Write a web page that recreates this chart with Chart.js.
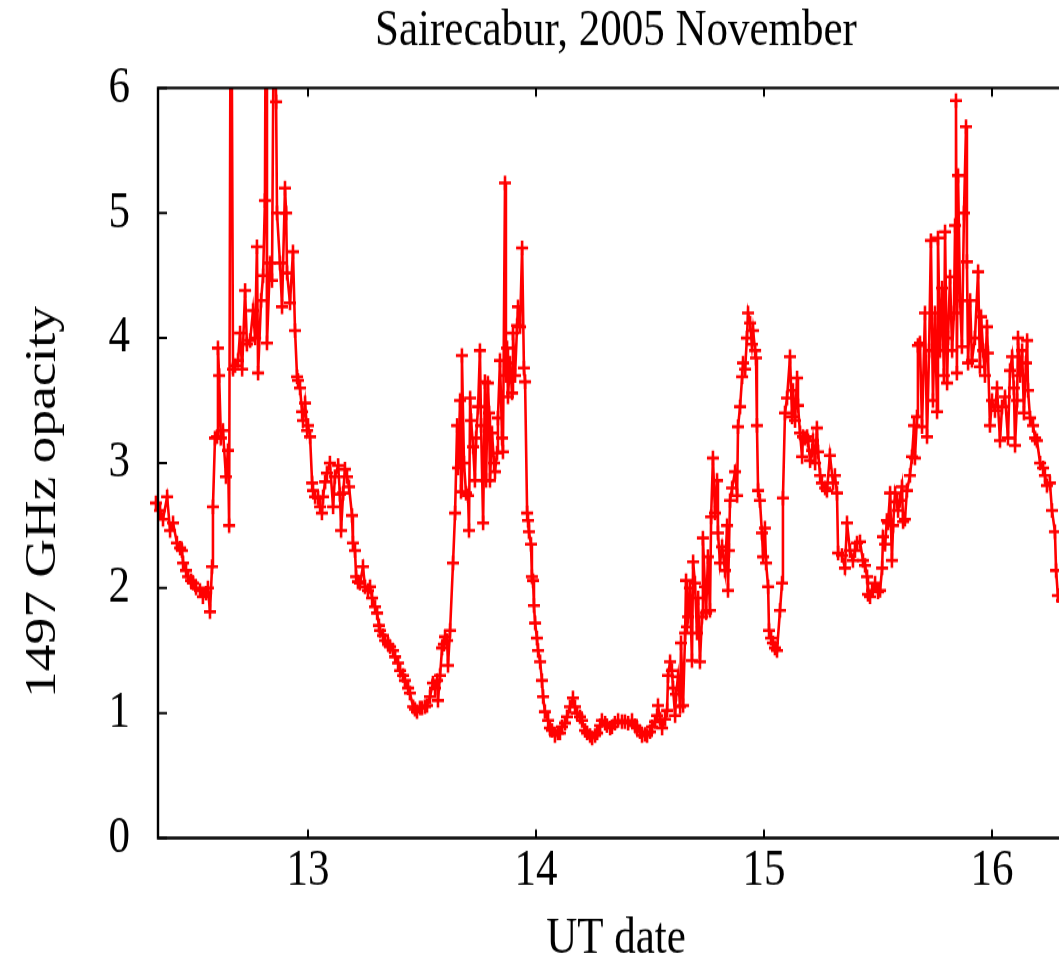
<!DOCTYPE html>
<html>
<head>
<meta charset="utf-8">
<script src="https://cdn.jsdelivr.net/npm/chart.js@4/dist/chart.umd.min.js"></script>
<style>
  html, body { margin: 0; padding: 0; background: #fff; overflow: hidden; width: 1059px; height: 965px; }
  #c { position: absolute; left: 0; top: 0; }
</style>
</head>
<body>
<canvas id="c" width="1074" height="794" style="width:1074px;height:965px;"></canvas>
<script>
const TITLE = 'Sairecabur, 2005 November';
const X_LABEL = 'UT date';
const Y_LABEL = '1497 GHz opacity';
const X_TICKS = [13, 14, 15, 16];
const Y_TICKS = [0, 1, 2, 3, 4, 5, 6];
const X_MIN = 12.342, X_MAX = 16.3596;

const DATES = [
12.320,12.333,12.351,12.364,12.382,12.395,12.408,12.425,12.439,12.447,12.452,12.465,12.474,12.487,12.496,12.509,12.526,12.539,12.553,12.561,
12.570,12.579,12.583,12.592,12.601,12.605,12.610,12.618,12.627,12.640,12.649,12.654,12.662,12.671,12.680,12.693,12.702,12.711,12.724,12.732,
12.746,12.759,12.768,12.776,12.781,12.794,12.803,12.811,12.816,12.820,12.833,12.842,12.851,12.860,12.864,12.877,12.886,12.899,12.904,12.908,
12.921,12.934,12.943,12.952,12.956,12.965,12.974,12.978,12.987,12.996,13.000,13.009,13.018,13.022,13.031,13.044,13.053,13.061,13.066,13.075,
13.083,13.096,13.110,13.118,13.132,13.140,13.145,13.154,13.162,13.171,13.180,13.193,13.197,13.206,13.211,13.219,13.228,13.241,13.250,13.263,
13.272,13.281,13.294,13.303,13.311,13.316,13.329,13.338,13.351,13.360,13.373,13.382,13.395,13.404,13.417,13.425,13.439,13.447,13.461,13.469,
13.478,13.491,13.500,13.513,13.522,13.535,13.548,13.557,13.566,13.570,13.579,13.588,13.596,13.601,13.610,13.614,13.623,13.636,13.645,13.654,
13.658,13.667,13.671,13.675,13.684,13.693,13.702,13.706,13.711,13.715,13.724,13.732,13.737,13.746,13.754,13.759,13.768,13.776,13.781,13.789,
13.794,13.798,13.807,13.816,13.820,13.829,13.833,13.842,13.851,13.855,13.864,13.868,13.873,13.877,13.886,13.895,13.899,13.908,13.917,13.921,
13.930,13.939,13.947,13.952,13.961,13.965,13.969,13.978,13.982,13.987,13.991,13.996,14.004,14.009,14.018,14.026,14.031,14.039,14.053,14.061,
14.070,14.083,14.096,14.105,14.114,14.127,14.136,14.149,14.162,14.171,14.180,14.193,14.202,14.215,14.224,14.237,14.246,14.259,14.268,14.281,
14.289,14.303,14.311,14.325,14.333,14.346,14.360,14.377,14.390,14.404,14.421,14.434,14.443,14.456,14.465,14.478,14.487,14.500,14.509,14.522,
14.531,14.535,14.544,14.553,14.566,14.575,14.579,14.588,14.596,14.601,14.610,14.614,14.623,14.632,14.636,14.645,14.654,14.658,14.662,14.667,
14.675,14.684,14.689,14.697,14.706,14.711,14.719,14.728,14.732,14.741,14.746,14.754,14.763,14.768,14.776,14.785,14.794,14.798,14.807,14.816,
14.829,14.838,14.842,14.846,14.851,14.860,14.873,14.882,14.886,14.895,14.904,14.908,14.917,14.925,14.930,14.939,14.947,14.952,14.961,14.965,
14.969,14.974,14.982,14.991,14.996,15.004,15.009,15.018,15.022,15.031,15.039,15.048,15.057,15.070,15.079,15.083,15.092,15.101,15.114,15.123,
15.127,15.136,15.145,15.149,15.158,15.167,15.171,15.180,15.189,15.193,15.202,15.211,15.215,15.224,15.232,15.237,15.246,15.254,15.268,15.276,
15.289,15.303,15.311,15.320,15.325,15.342,15.355,15.364,15.377,15.390,15.399,15.408,15.421,15.434,15.443,15.452,15.456,15.465,15.474,15.487,
15.500,15.509,15.518,15.522,15.531,15.539,15.544,15.553,15.561,15.566,15.575,15.583,15.588,15.596,15.605,15.610,15.618,15.627,15.640,15.649,
15.658,15.662,15.671,15.675,15.684,15.693,15.706,15.715,15.724,15.732,15.741,15.750,15.759,15.763,15.772,15.781,15.789,15.794,15.803,15.807,
15.816,15.825,15.833,15.838,15.842,15.846,15.851,15.860,15.868,15.877,15.886,15.890,15.895,15.904,15.912,15.925,15.939,15.947,15.952,15.961,
15.969,15.978,15.982,15.991,16.000,16.013,16.022,16.035,16.044,16.057,16.070,16.079,16.088,16.096,16.101,16.110,16.114,16.123,16.132,16.140,
16.149,16.154,16.158,16.167,16.180,16.189,16.197,16.211,16.224,16.232,16.241,16.254,16.263,16.276,16.281,16.289,16.307,16.320
];

const OPACITY = [
2.85,2.68,2.62,2.55,2.73,2.46,2.52,2.36,2.32,2.30,2.20,2.14,2.09,2.06,2.04,2.00,1.98,1.93,1.96,2.00,
1.81,2.17,2.65,3.20,3.21,3.92,3.70,3.20,3.26,2.89,3.10,2.50,8.00,3.75,3.78,3.82,4.04,3.75,4.38,3.95,
3.98,4.22,4.00,4.73,3.72,4.30,4.50,5.10,7.50,3.96,4.60,4.46,7.00,5.89,5.00,4.60,4.25,5.20,5.00,4.52,
4.28,4.69,4.06,3.69,3.66,3.60,3.41,3.34,3.48,3.26,3.30,3.21,2.84,2.78,2.73,2.72,2.65,2.60,2.73,2.85,
2.92,3.00,2.65,2.89,2.98,2.75,2.46,2.76,2.95,2.89,2.81,2.58,2.36,2.30,2.09,2.05,2.04,2.17,2.01,1.98,
2.01,1.92,1.85,1.80,1.70,1.66,1.62,1.58,1.55,1.53,1.50,1.45,1.40,1.34,1.30,1.26,1.20,1.16,1.05,1.03,
1.01,1.04,1.04,1.05,1.06,1.13,1.24,1.20,1.26,1.10,1.30,1.52,1.55,1.61,1.58,1.38,1.66,2.20,2.60,3.30,
2.96,3.50,2.77,3.86,3.00,2.76,2.74,2.46,3.52,3.34,3.13,2.86,3.20,3.45,3.90,3.30,2.52,3.65,2.86,3.64,
3.40,2.86,3.24,3.00,2.93,3.08,3.36,3.82,3.20,3.09,5.24,3.70,3.92,3.53,3.80,3.56,4.04,3.70,4.10,4.25,
4.09,4.72,3.76,3.65,2.60,2.54,2.45,2.35,2.09,2.06,1.86,1.72,1.60,1.50,1.41,1.26,1.13,1.01,0.94,0.88,
0.86,0.82,0.84,0.84,0.89,0.92,0.97,1.05,1.12,1.05,1.00,0.97,0.94,0.86,0.84,0.82,0.80,0.82,0.84,0.90,
0.94,0.92,0.90,0.88,0.89,0.92,0.94,0.93,0.93,0.92,0.94,0.90,0.88,0.85,0.82,0.83,0.82,0.85,0.89,0.93,
0.98,1.06,0.95,0.88,0.95,1.02,1.30,1.41,1.34,1.20,0.98,1.15,1.29,1.05,1.56,1.06,1.64,2.06,1.69,1.77,
2.00,1.42,2.21,2.04,1.64,1.92,1.41,1.77,2.40,2.01,1.80,2.25,1.82,2.57,3.04,2.60,2.86,2.44,2.20,2.33,
2.14,2.50,1.98,2.30,2.70,2.80,2.93,2.74,3.29,3.45,3.69,3.80,3.75,4.00,4.20,4.12,3.95,4.06,3.90,3.84,
3.30,2.78,2.70,2.44,2.25,2.48,2.20,2.01,1.66,1.60,1.56,1.52,1.50,1.82,2.04,2.72,3.40,3.52,3.85,3.37,
3.58,3.34,3.68,3.46,3.24,3.05,3.21,3.20,3.21,3.18,3.02,3.10,3.18,3.00,3.28,3.09,2.90,2.84,2.80,2.78,
3.06,2.84,2.90,2.76,2.28,2.26,2.16,2.52,2.30,2.22,2.30,2.36,2.37,2.22,2.18,2.09,1.95,1.93,1.98,2.04,
1.97,1.98,2.16,2.41,2.35,2.54,2.52,2.76,2.22,2.50,2.76,2.69,2.62,2.70,2.81,2.53,2.55,2.78,2.90,3.05,
3.30,3.04,3.37,3.94,3.96,3.29,4.20,3.21,3.90,4.78,3.50,4.20,3.41,4.80,3.90,4.40,3.70,4.85,3.64,4.00,
4.49,3.90,4.20,4.90,5.90,3.72,5.30,4.30,3.93,5.00,5.69,4.61,3.80,4.30,3.82,4.00,4.53,3.77,4.17,3.90,
3.70,4.09,3.88,3.30,3.50,3.42,3.60,3.18,3.45,3.53,3.20,3.74,3.85,3.60,3.14,3.50,4.00,3.70,3.90,3.40,
3.80,3.98,3.58,3.36,3.30,3.20,3.18,3.00,2.96,2.90,2.82,2.84,2.62,2.45,2.14,1.94,1.90,1.85
];

const FONT = 'Liberation Serif, "Times New Roman", serif';
const CANVAS_H = 794;

const framePlugin = {
  id: 'frame',
  afterDatasetsDraw(chart) {
    const { ctx, chartArea: a, scales } = chart;
    const xs = scales.x, ys = scales.y;
    ctx.save();
    ctx.strokeStyle = '#000';
    ctx.lineWidth = 2.4;
    ctx.beginPath();
    ctx.moveTo(a.right, a.top); ctx.lineTo(a.left, a.top);
    ctx.lineTo(a.left, a.bottom); ctx.lineTo(a.right, a.bottom);
    ctx.lineTo(a.right, a.top);
    ctx.stroke();
    ctx.lineWidth = 2;
    ctx.beginPath();
    Y_TICKS.forEach(v => {
      const py = ys.getPixelForValue(v);
      ctx.moveTo(a.left, py); ctx.lineTo(a.left + 9, py);
    });
    X_TICKS.forEach(v => {
      const px = xs.getPixelForValue(v);
      ctx.moveTo(px, a.bottom); ctx.lineTo(px, a.bottom - 7);
      ctx.moveTo(px, a.top); ctx.lineTo(px, a.top + 7);
    });
    ctx.stroke();
    ctx.fillStyle = '#000';
    ctx.font = '44px ' + FONT;
    ctx.textAlign = 'center';
    ctx.textBaseline = 'middle';
    ctx.translate(43, 413);
    ctx.rotate(-Math.PI / 2);
    ctx.fillText(Y_LABEL, 0, 0);
    ctx.restore();
  }
};

new Chart(document.getElementById('c'), {
  type: 'line',
  data: {
    datasets: [{
      data: DATES.map((d, i) => ({ x: d, y: OPACITY[i] })),
      borderColor: '#ff0000',
      backgroundColor: '#ff0000',
      borderWidth: 2.6,
      pointStyle: 'cross',
      pointRadius: 6,
      pointBorderWidth: 2.6,
      pointBorderColor: '#ff0000',
      pointHoverRadius: 6,
      tension: 0,
      fill: false,
      clip: { left: 8, top: 0, right: 0, bottom: 0 }
    }]
  },
  options: {
    responsive: false,
    animation: false,
    devicePixelRatio: 1,
    layout: { autoPadding: false, padding: { left: 0, right: 0, top: 0, bottom: 0 } },
    plugins: {
      legend: { display: false },
      tooltip: { enabled: false },
      title: {
        display: true,
        fullSize: false,
        text: TITLE,
        color: '#000',
        font: { family: FONT, size: 43, weight: 'normal', lineHeight: 1 },
        padding: { top: 4, bottom: 25.4 }
      }
    },
    scales: {
      x: {
        type: 'linear',
        min: X_MIN,
        max: X_MAX,
        afterBuildTicks: s => { s.ticks = X_TICKS.map(v => ({ value: v })); },
        afterFit: s => { s.height = CANVAS_H - 689.5; s.paddingLeft = 0; s.paddingRight = 0; },
        grid: { display: false, drawTicks: false },
        border: { display: false },
        ticks: {
          color: '#000',
          font: { family: FONT, size: 43, lineHeight: 1 },
          padding: 6,
          maxRotation: 0,
          autoSkip: false
        },
        title: {
          display: true,
          text: X_LABEL,
          color: '#000',
          font: { family: FONT, size: 43, lineHeight: 1 },
          padding: { top: 0, bottom: 0 }
        }
      },
      y: {
        type: 'linear',
        min: 0,
        max: 6,
        afterBuildTicks: s => { s.ticks = Y_TICKS.map(v => ({ value: v })); },
        afterFit: s => { s.width = 158; },
        grid: { display: false, drawTicks: false },
        border: { display: false },
        ticks: {
          color: '#000',
          font: { family: FONT, size: 43, lineHeight: 1 },
          padding: 28
        },
        title: { display: false }
      }
    }
  },
  plugins: [framePlugin]
});
</script>
</body>
</html>
